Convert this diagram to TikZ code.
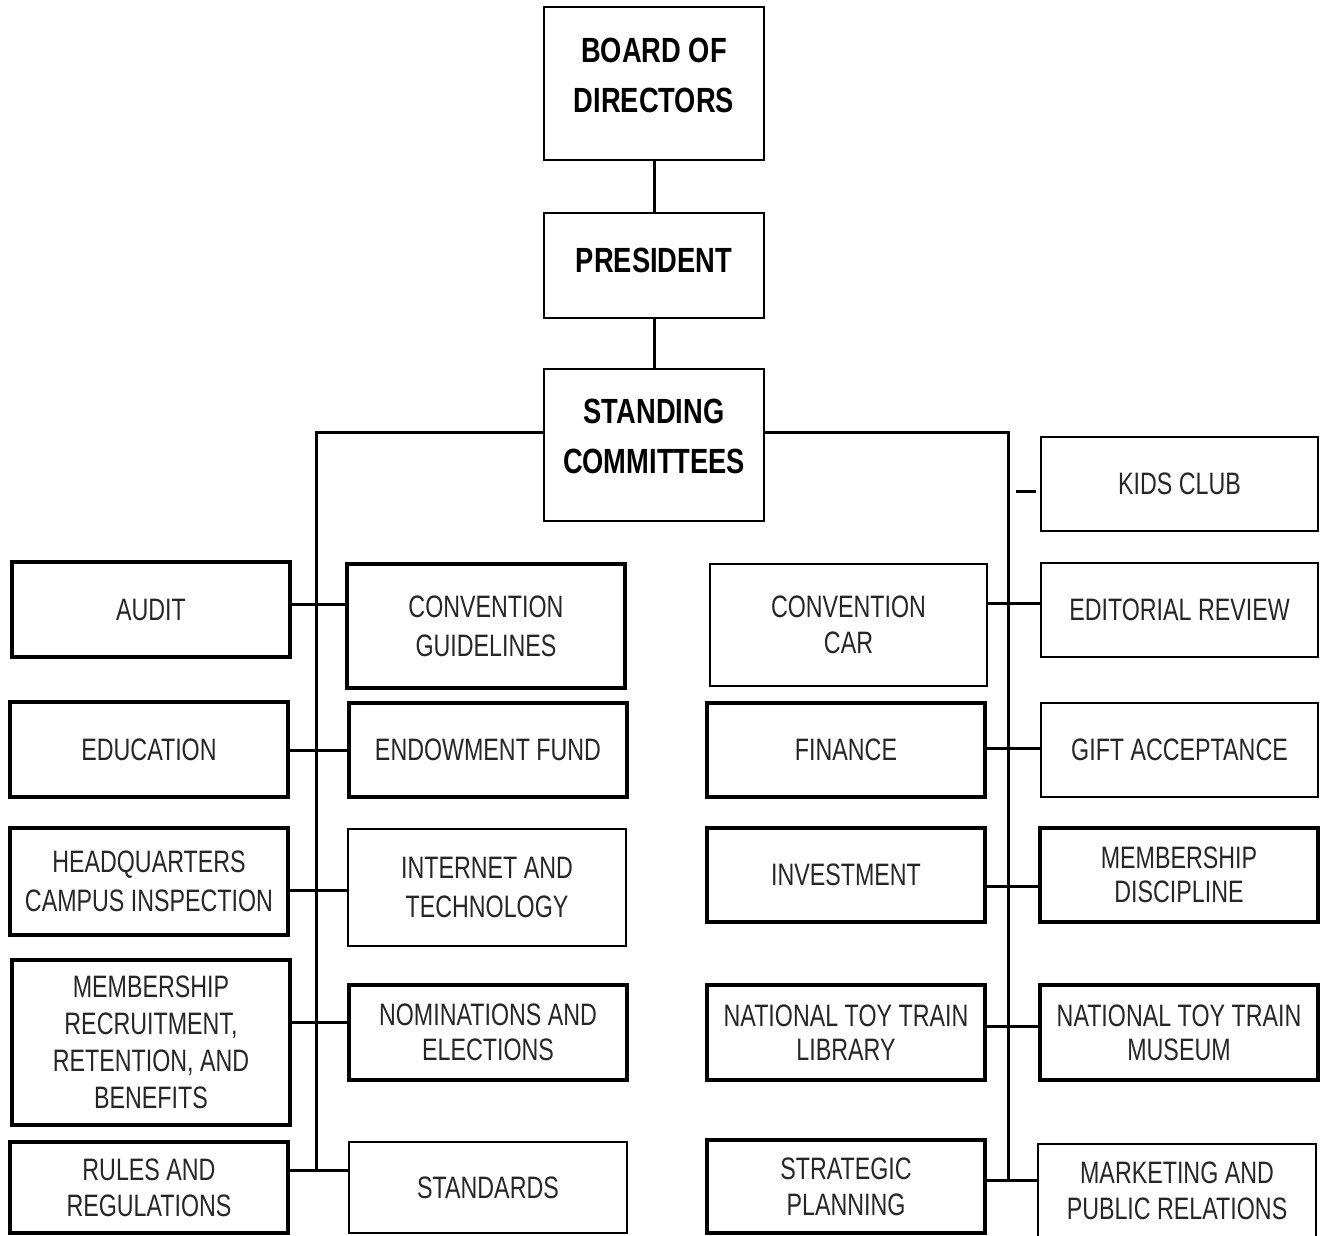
\documentclass[tikz,border=0pt]{standalone}
\usepackage{fontspec}
\setmainfont{Liberation Sans}[FakeStretch=0.75]
\newfontfamily\titlefont{Liberation Sans}[FakeStretch=0.78]
\begin{document}
\begin{tikzpicture}[x=1pt,y=-1pt,
  box/.style={draw=black,fill=white,inner sep=0pt,align=center,text=black!85,
    font=\fontsize{31}{39}\selectfont},
  thinbox/.style={box,line width=1.6pt},
  thickbox/.style={box,line width=3.2pt},
  topbox/.style={draw=black,fill=white,inner sep=0pt,line width=1.8pt},
  toptext/.style={align=center,text=black,inner sep=0pt,font=\titlefont\bfseries\fontsize{35}{50}\selectfont},
  link/.style={draw=black,line width=3pt},
  trunk/.style={draw=black,line width=3pt}]
\useasboundingbox[fill=white] (0,0) rectangle (1326,1236);
% top chain
\node[topbox,minimum width=220pt,minimum height=153pt,
  label={[toptext,yshift=8pt]center:BOARD OF\\DIRECTORS}] (bod) at (654,83.5) {};
\node[topbox,minimum width=220pt,minimum height=105pt,
  label={[toptext,yshift=5pt]center:PRESIDENT}] (pres) at (654,265.5) {};
\node[topbox,minimum width=220pt,minimum height=152pt,
  label={[toptext,yshift=9pt]center:STANDING\\COMMITTEES}] (sc) at (654,445) {};
% left column
\node[thickbox,minimum width=278pt,minimum height=95pt] (audit) at (151,609.5) {AUDIT};
\node[thickbox,minimum width=278pt,minimum height=124pt] (convg) at (486,626) {CONVENTION\\GUIDELINES};
\node[thickbox,minimum width=278pt,minimum height=95pt] (edu) at (149,749.5) {EDUCATION};
\node[thickbox,minimum width=278pt,minimum height=94pt] (endow) at (488,750) {ENDOWMENT FUND};
\node[thickbox,minimum width=278pt,minimum height=107pt] (hq) at (149,881.5) {HEADQUARTERS\\CAMPUS INSPECTION};
\node[thinbox,minimum width=278pt,minimum height=117pt] (inet) at (487,887.5) {INTERNET AND\\TECHNOLOGY};
\node[thickbox,minimum width=278pt,minimum height=165pt,font=\fontsize{31}{37}\selectfont] (memr) at (151,1042.5) {MEMBERSHIP\\RECRUITMENT,\\RETENTION, AND\\BENEFITS};
\node[thickbox,minimum width=278pt,minimum height=95pt,font=\fontsize{31}{35}\selectfont] (nom) at (488,1032.5) {NOMINATIONS AND\\ELECTIONS};
\node[thickbox,minimum width=278pt,minimum height=91pt,font=\fontsize{31}{36}\selectfont] (rules) at (149,1187.5) {RULES AND\\REGULATIONS};
\node[thinbox,minimum width=278pt,minimum height=91pt] (std) at (488,1187.5) {STANDARDS};
% right column
\node[thinbox,minimum width=277pt,minimum height=94pt] (kids) at (1179.5,484) {KIDS CLUB};
\node[thinbox,minimum width=277pt,minimum height=122pt,font=\fontsize{31}{36}\selectfont] (convc) at (848.5,625) {CONVENTION\\CAR};
\node[thinbox,minimum width=277pt,minimum height=94pt] (edit) at (1179.5,610) {EDITORIAL REVIEW};
\node[thickbox,minimum width=278pt,minimum height=94pt] (fin) at (846,750) {FINANCE};
\node[thinbox,minimum width=277pt,minimum height=94pt] (gift) at (1179.5,750) {GIFT ACCEPTANCE};
\node[thickbox,minimum width=278pt,minimum height=94pt] (inv) at (846,875) {INVESTMENT};
\node[thickbox,minimum width=278pt,minimum height=94pt,font=\fontsize{31}{34}\selectfont] (memd) at (1179,875) {MEMBERSHIP\\DISCIPLINE};
\node[thickbox,minimum width=278pt,minimum height=95pt,font=\fontsize{31}{34}\selectfont] (lib) at (846,1032.5) {NATIONAL TOY TRAIN\\LIBRARY};
\node[thickbox,minimum width=278pt,minimum height=95pt,font=\fontsize{31}{34}\selectfont] (mus) at (1179,1032.5) {NATIONAL TOY TRAIN\\MUSEUM};
\node[thickbox,minimum width=278pt,minimum height=93pt,font=\fontsize{31}{36}\selectfont] (strat) at (846,1186.5) {STRATEGIC\\PLANNING};
\node[thinbox,minimum width=278pt,minimum height=93pt,font=\fontsize{31}{36}\selectfont] (mkt) at (1177,1190.5) {MARKETING AND\\PUBLIC RELATIONS};
% top links
\draw[link] (bod.south) -- (pres.north);
\draw[link] (pres.south) -- (sc.north);
% trunks
\coordinate (Ltop) at (316,432);
\coordinate (Lbot) at (316,1170);
\coordinate (Rtop) at (1008,432);
\coordinate (Rbot) at (1008,1181);
\draw[trunk] (sc.west |- Ltop) -- (Ltop) -- (Lbot);
\draw[trunk] (sc.east |- Rtop) -- (Rtop) -- (Rbot);
% left branches
\coordinate (L1) at (316,604);
\coordinate (L2) at (316,750);
\coordinate (L3) at (316,890);
\coordinate (L4) at (316,1022);
\coordinate (L5) at (316,1170);
\draw[link] (audit.east |- L1) -- (convg.west |- L1);
\draw[link] (edu.east |- L2) -- (endow.west |- L2);
\draw[link] (hq.east |- L3) -- (inet.west |- L3);
\draw[link] (memr.east |- L4) -- (nom.west |- L4);
\draw[link] (rules.east |- L5) -- (std.west |- L5);
% right branches
\coordinate (K1) at (1016,491);
\coordinate (K2) at (1036,491);
\draw[link] (K1) -- (K2);
\coordinate (R1) at (1008,603);
\coordinate (R2) at (1008,748);
\coordinate (R3) at (1008,886);
\coordinate (R4) at (1008,1026);
\coordinate (R5) at (1008,1180);
\draw[link] (convc.east |- R1) -- (edit.west |- R1);
\draw[link] (fin.east |- R2) -- (gift.west |- R2);
\draw[link] (inv.east |- R3) -- (memd.west |- R3);
\draw[link] (lib.east |- R4) -- (mus.west |- R4);
\draw[link] (strat.east |- R5) -- (mkt.west |- R5);
\end{tikzpicture}
\end{document}
